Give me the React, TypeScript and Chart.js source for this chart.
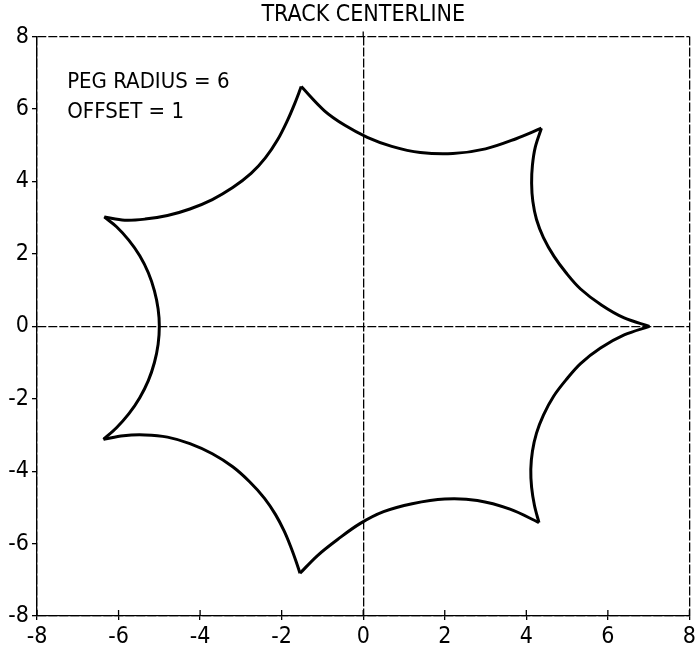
import React, { useEffect, useRef } from 'react';
import { Chart, registerables } from 'chart.js';

Chart.register(...registerables);

const TITLE = 'TRACK CENTERLINE';
const NOTE_LINES = ['PEG RADIUS = 6', 'OFFSET = 1'];
const NOTE_X = -7.26;
const NOTE_Y = [6.59, 5.76];
const AXIS_MIN = -8;
const AXIS_MAX = 8;
const AXIS_STEP = 2;

// Track centerline (cusp to cusp)
const arc1X = [7.02, 6.40, 5.85, 5.33, 4.98, 4.68, 4.42, 4.25, 4.16, 4.13, 4.15, 4.22, 4.37];
const arc1Y = [0.0, 0.23, 0.58, 1.03, 1.47, 1.93, 2.45, 2.95, 3.45, 3.95, 4.45, 4.95, 5.47];

const arc2X = [4.37, 3.75, 3.00, 2.20, 1.40, 0.70, 0.10, -0.45, -0.95, -1.52];
const arc2Y = [5.47, 5.18, 4.90, 4.77, 4.80, 4.97, 5.22, 5.55, 5.95, 6.62];

const arc3X = [-1.52, -1.68, -1.86, -2.10, -2.40, -2.75, -3.20, -3.70, -4.25, -4.80, -5.35, -5.85, -6.35];
const arc3Y = [6.62, 6.15, 5.68, 5.15, 4.65, 4.22, 3.83, 3.50, 3.24, 3.06, 2.96, 2.93, 3.02];

const arc4X = [-6.35, -6.05, -5.75, -5.48, -5.27, -5.12, -5.03, -5.00, -5.03, -5.12, -5.27, -5.48, -5.75, -6.05, -6.37];
const arc4Y = [3.02, 2.75, 2.38, 1.95, 1.48, 0.98, 0.48, 0.0, -0.50, -1.00, -1.50, -1.97, -2.42, -2.80, -3.12];

const arc5X = [-6.37, -5.88, -5.35, -4.80, -4.25, -3.70, -3.20, -2.78, -2.42, -2.15, -1.94, -1.78, -1.65, -1.55];
const arc5Y = [-3.12, -3.02, -3.00, -3.06, -3.24, -3.52, -3.88, -4.30, -4.75, -5.20, -5.65, -6.08, -6.48, -6.82];

const arc6X = [-1.55, -1.12, -0.62, -0.08, 0.50, 1.20, 2.00, 2.80, 3.60, 4.31];
const arc6Y = [-6.82, -6.33, -5.88, -5.45, -5.12, -4.90, -4.77, -4.81, -5.05, -5.42];

const arc7X = [4.31, 4.20, 4.13, 4.11, 4.15, 4.25, 4.42, 4.67, 4.98, 5.33, 5.82, 6.40, 7.02];
const arc7Y = [-5.42, -4.95, -4.45, -3.95, -3.45, -2.95, -2.45, -1.93, -1.47, -1.03, -0.60, -0.24, 0.0];

const ARCS = [
  [arc1X, arc1Y],
  [arc2X, arc2Y],
  [arc3X, arc3Y],
  [arc4X, arc4Y],
  [arc5X, arc5Y],
  [arc6X, arc6Y],
  [arc7X, arc7Y],
];

const FONT = "'Liberation Sans Narrow', 'Arial Narrow', 'DejaVu Sans Condensed', sans-serif";

const notePlugin = {
  id: 'noteText',
  afterDraw(chart: any) {
    const { ctx, scales, chartArea } = chart;
    ctx.save();
    // short extension of the vertical zero line above the frame, and inner x ticks
    ctx.strokeStyle = '#000';
    ctx.lineWidth = 1.3;
    const x0 = scales.x.getPixelForValue(0);
    ctx.beginPath();
    ctx.moveTo(x0, chartArea.top - 5);
    ctx.lineTo(x0, chartArea.top);
    scales.x.ticks.forEach((t: any) => {
      const px = scales.x.getPixelForValue(t.value);
      ctx.moveTo(px, chartArea.bottom - 6);
      ctx.lineTo(px, chartArea.bottom);
    });
    ctx.stroke();

    ctx.fillStyle = '#000';
    ctx.font = `22px ${FONT}`;
    ctx.textAlign = 'left';
    ctx.textBaseline = 'alphabetic';
    NOTE_LINES.forEach((line, i) => {
      ctx.fillText(line, scales.x.getPixelForValue(NOTE_X), scales.y.getPixelForValue(NOTE_Y[i]));
    });
    ctx.restore();
  },
};

export default function App() {
  const ref = useRef<HTMLCanvasElement | null>(null);

  useEffect(() => {
    document.body.style.margin = '0';
    const canvas = ref.current;
    if (!canvas) return;

    const edgeColor = (ctx: any) => {
      const v = ctx.tick ? ctx.tick.value : null;
      return v === AXIS_MIN || v === AXIS_MAX || v === 0 ? '#000' : 'rgba(0,0,0,0)';
    };

    const axis = (fit: (s: any) => void, tickLength: number) => ({
      type: 'linear' as const,
      min: AXIS_MIN,
      max: AXIS_MAX,
      afterFit: fit,
      ticks: {
        stepSize: AXIS_STEP,
        color: '#000',
        padding: 3,
        font: { family: FONT, size: 23 },
      },
      grid: {
        color: edgeColor,
        lineWidth: 1.3,
        tickColor: '#000',
        tickLength,
        tickWidth: 1.3,
      },
      border: { display: true, color: '#000', width: 1.3, dash: [9, 2] },
    });

    const chart = new Chart(canvas, {
      type: 'scatter',
      data: {
        datasets: ARCS.map(([xs, ys], i) => ({
          label: `arc${i + 1}`,
          data: xs.map((x, j) => ({ x, y: ys[j] })),
          showLine: true,
          borderColor: '#000',
          backgroundColor: '#000',
          borderWidth: 3,
          pointRadius: 0,
          tension: 0.35,
          fill: false,
        })),
      },
      options: {
        animation: false,
        responsive: false,
        maintainAspectRatio: false,
        layout: { padding: { left: 0, right: 8, top: 0, bottom: 0 } },
        plugins: {
          legend: { display: false },
          tooltip: { enabled: false },
          title: {
            display: true,
            fullSize: false,
            text: TITLE,
            color: '#000',
            font: { family: FONT, size: 23, weight: 'normal' },
            padding: { top: 1, bottom: 8 },
          },
        },
        scales: {
          x: axis((s: any) => { s.height = 34; }, 4),
          y: axis((s: any) => { s.width = 37; }, 5),
        },
      },
      plugins: [notePlugin],
    });

    return () => chart.destroy();
  }, []);

  return (
    <div style={{ width: 699, height: 650, background: '#fff' }}>
      <canvas ref={ref} width={699} height={650} style={{ display: 'block' }} />
    </div>
  );
}
